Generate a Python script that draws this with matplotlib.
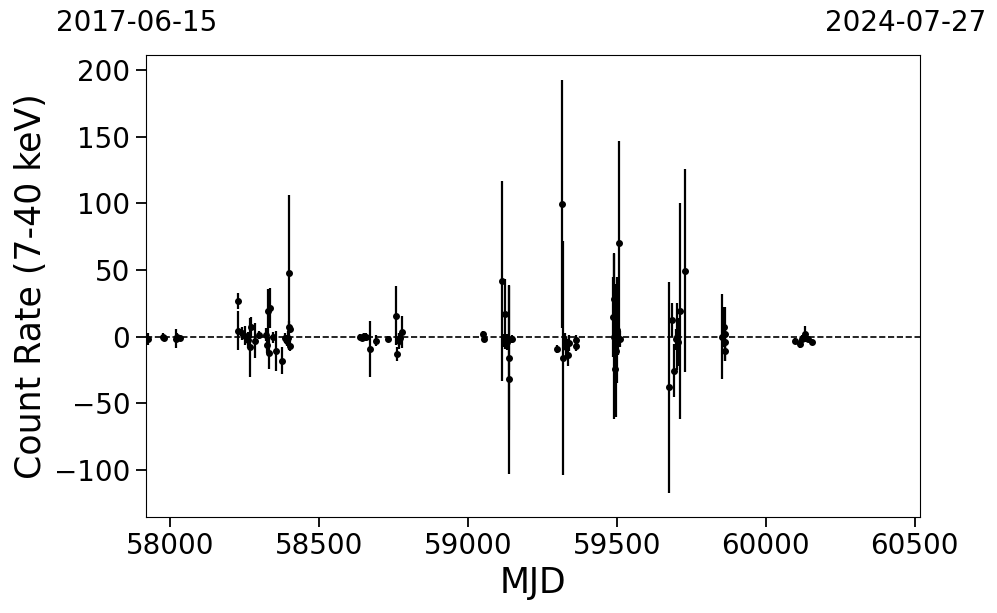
import matplotlib
matplotlib.use("Agg")
import matplotlib.pyplot as plt
import numpy as np

# MJD, count rate and 1-sigma error
mjd = [57926, 57977, 57980, 58020, 58024, 58033,
       58229, 58230, 58241, 58252, 58263, 58269, 58272, 58286, 58300,
       58322, 58325, 58330, 58334, 58338, 58345, 58356, 58377, 58386,
       58390, 58393, 58396, 58401, 58401, 58402, 58404,
       58640, 58645, 58652, 58660, 58672, 58692, 58733, 58759, 58763,
       58768, 58770, 58772, 58781,
       59052, 59053, 59115, 59123, 59125, 59130, 59139, 59140, 59147,
       59298, 59317, 59318, 59326, 59330, 59336, 59341, 59362, 59363,
       59488, 59490, 59492, 59494, 59496, 59499, 59503, 59508, 59511,
       59675, 59684, 59693, 59698, 59702, 59706, 59712, 59729,
       59852, 59858, 59862, 59863, 59864,
       60098, 60115, 60121, 60132, 60143, 60156]
rate = [-2, -0.5, -1, -1.5, 0, -1,
        26.5, 4.5, 2.5, 0.7, -2.5, -8, 7, -3, 1,
        1.5, -6, 19, -12, 21.5, -0.5, -10.5, -18, -1,
        -2, -3, -1, 48, 7.5, -7, 6,
        0, -1, 0.5, -0.5, -9, -3, -1.7, 15.7, -13,
        -2, -3, -1, 3.7,
        2, -2, 41.5, -3, 17, -4, -16, -32, -1.7,
        -9, 99.5, -16, -3, -8, -14, -5, -2.5, -7,
        15, 28, 0, -24, -10.5, 5, -2, 70, -2,
        -38, 12.5, -25.5, -2, 0, -4, 19.5, 49.5,
        0, 7, -4, -10.5, 2,
        -3, -5.5, -1.7, 2, -1.7, -4]
err = [4.5, 3, 2, 7, 3, 2,
       6, 14.5, 5, 7, 6, 22, 8, 13, 3,
       5, 6, 17, 12, 15, 4, 15, 10, 4,
       3, 4, 5, 58, 4, 4, 3,
       2, 2, 2, 3, 21, 4, 2, 22, 5,
       5, 6, 4, 12,
       2, 2, 75, 5, 26, 6, 54, 71, 3,
       3, 93, 88, 6, 8, 8, 6, 4, 4,
       30, 35, 62, 28, 50, 40, 12, 77, 6,
       79, 13, 20, 8, 25, 18, 81, 76,
       32, 15, 8, 8, 20,
       2, 3, 3, 6, 2, 2]

start_label = "2017-06-15"
end_label = "2024-07-27"
mjd_start, mjd_end = 57919, 60518

fig = plt.figure(figsize=(9.97, 6.13), dpi=100)
ax = fig.add_axes([0.146, 0.157, 0.777, 0.753])

ax.errorbar(mjd, rate, yerr=err, fmt="o", color="black", markersize=4,
            elinewidth=1.6, capsize=0, zorder=3)
ax.axhline(0, color="black", linestyle="--", linewidth=1.2, zorder=2)

ax.set_xlim(mjd_start, mjd_end)
ax.set_ylim(-135, 211)
ax.set_xticks([58000, 58500, 59000, 59500, 60000, 60500])
ax.set_yticks([-100, -50, 0, 50, 100, 150, 200])

ax.set_xlabel("MJD", fontsize=25)
ax.set_ylabel("Count Rate (7-40 keV)", fontsize=25)
ax.tick_params(axis="both", labelsize=20, length=7.5, width=1.3)

fig.text(0.137, 0.963, start_label, fontsize=20, ha="center", va="center")
fig.text(0.989, 0.963, end_label, fontsize=20, ha="right", va="center")

plt.savefig("out.png", dpi=100)
